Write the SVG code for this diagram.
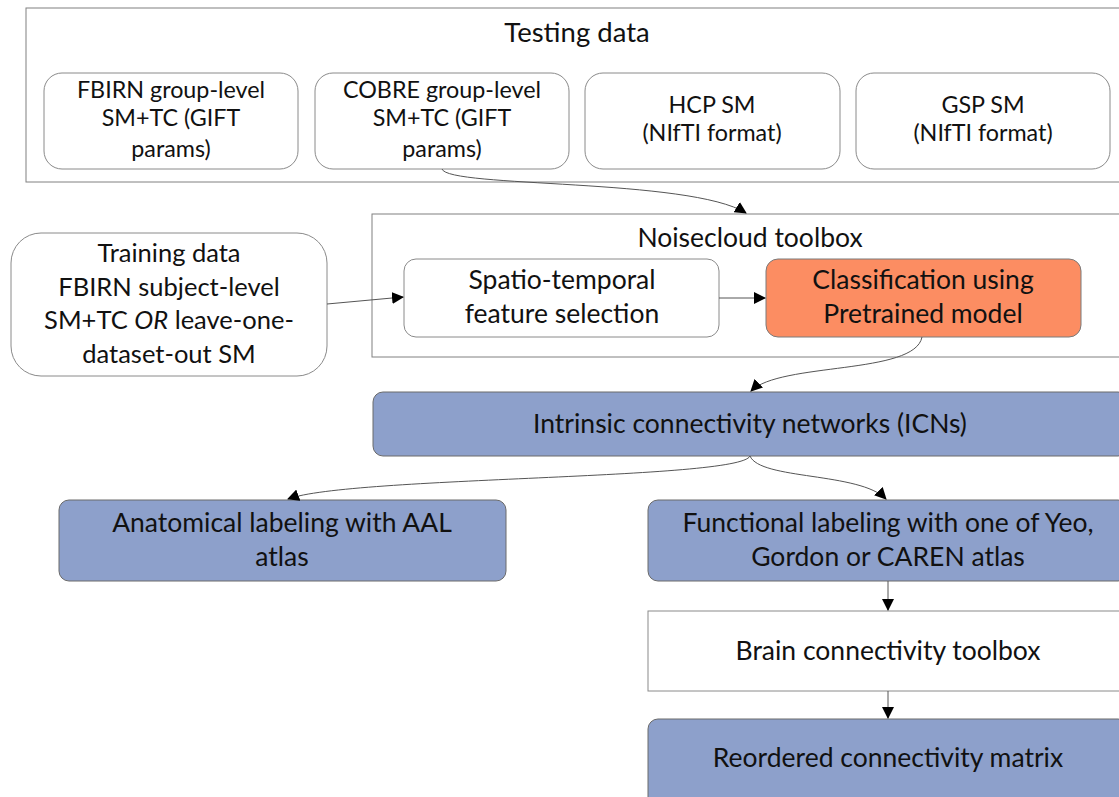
<svg xmlns="http://www.w3.org/2000/svg" width="1119" height="797" viewBox="0 0 1119 797">
<style>
text{font-family:"Lato","Open Sans",sans-serif;fill:#111;text-anchor:middle}
.t22{font-size:23.3px}
.t25{font-size:26.5px}
.tr{font-size:25.5px}
.t26{font-size:27.5px}
.frame{fill:#fff;stroke:#808080;stroke-width:1}
.box{fill:#fff;stroke:#8a8a8a;stroke-width:1}
.blue{fill:#8da0cb;stroke:#6a6a6a;stroke-width:1}
.orange{fill:#fc8d62;stroke:#7a7a7a;stroke-width:1}
.conn{fill:none;stroke:#555;stroke-width:1;marker-end:url(#ah)}
</style>
<defs>
<marker id="ah" markerWidth="12" markerHeight="12" refX="11" refY="6" orient="auto" markerUnits="userSpaceOnUse">
<path d="M0,0 L12,6 L0,12 Z" fill="#000"/>
</marker>
</defs>
<rect width="1119" height="797" fill="#fff"/>

<g id="testing-data">
<rect class="frame" x="26" y="8" width="1100" height="174"/>
<text class="t26" x="577" y="42">Testing data</text>
</g>
<g id="fbirn-group">
<rect class="box" x="44" y="73" width="254" height="96" rx="18"/>
<text class="t22" x="171" y="98">FBIRN group-level</text>
<text class="t22" x="171" y="126">SM+TC (GIFT</text>
<text class="t22" x="171" y="157">params)</text>
</g>
<g id="cobre-group">
<rect class="box" x="315" y="73" width="254" height="96" rx="18"/>
<text class="t22" x="442" y="98">COBRE group-level</text>
<text class="t22" x="442" y="126">SM+TC (GIFT</text>
<text class="t22" x="442" y="157">params)</text>
</g>
<g id="hcp">
<rect class="box" x="585" y="73" width="255" height="96" rx="18"/>
<text class="t22" x="712" y="113">HCP SM</text>
<text class="t22" x="712" y="141">(NIfTI format)</text>
</g>
<g id="gsp">
<rect class="box" x="856" y="73" width="254" height="96" rx="18"/>
<text class="t22" x="983" y="113">GSP SM</text>
<text class="t22" x="983" y="141">(NIfTI format)</text>
</g>

<g id="training-data">
<rect class="box" x="11" y="233" width="316" height="143" rx="30"/>
<text class="tr" x="169" y="262">Training data</text>
<text class="tr" x="169" y="296">FBIRN subject-level</text>
<text class="tr" x="169" y="329">SM+TC <tspan font-style="italic">OR</tspan> leave-one-</text>
<text class="tr" x="169" y="363">dataset-out SM</text>
</g>

<g id="noisecloud">
<rect class="frame" x="372" y="214" width="756" height="143"/>
<text class="t25" x="750" y="247">Noisecloud toolbox</text>
</g>
<g id="spatio-temporal">
<rect class="box" x="404" y="259" width="315" height="78" rx="12"/>
<text class="t25" x="562" y="289">Spatio-temporal</text>
<text class="t25" x="562" y="323">feature selection</text>
</g>
<g id="classification">
<rect class="orange" x="766" y="259" width="315" height="78" rx="12"/>
<text class="t25" x="923" y="289">Classification using</text>
<text class="t25" x="923" y="323">Pretrained model</text>
</g>

<g id="icns">
<rect class="blue" x="373" y="392" width="755" height="64" rx="10"/>
<text class="t25" x="750" y="433">Intrinsic connectivity networks (ICNs)</text>
</g>
<g id="anatomical">
<rect class="blue" x="59" y="500" width="447" height="81" rx="10"/>
<text class="t25" x="282" y="532">Anatomical labeling with AAL</text>
<text class="t25" x="282" y="566">atlas</text>
</g>
<g id="functional">
<rect class="blue" x="648" y="500" width="480" height="81" rx="10"/>
<text class="t25" x="888" y="532">Functional labeling with one of Yeo,</text>
<text class="t25" x="888" y="566">Gordon or CAREN atlas</text>
</g>
<g id="brain-connectivity">
<rect class="box" x="648" y="611" width="480" height="80"/>
<text class="t25" x="888" y="660">Brain connectivity toolbox</text>
</g>
<g id="reordered">
<rect class="blue" x="648" y="719" width="480" height="90" rx="10"/>
<text class="t25" x="888" y="767">Reordered connectivity matrix</text>
</g>

<g id="connectors">
<path class="conn" d="M442,169 C448,188 690,178 746,213"/>
<path class="conn" d="M327,304 L403,297"/>
<path class="conn" d="M719,298 L765,298"/>
<path class="conn" d="M922,337 C915,375 780,362 751,391"/>
<path class="conn" d="M750,456 C740,480 350,476 288,499"/>
<path class="conn" d="M750,456 C760,480 860,472 886,499"/>
<path class="conn" d="M888,581 L888,610"/>
<path class="conn" d="M888,691 L888,718"/>
</g>
</svg>
